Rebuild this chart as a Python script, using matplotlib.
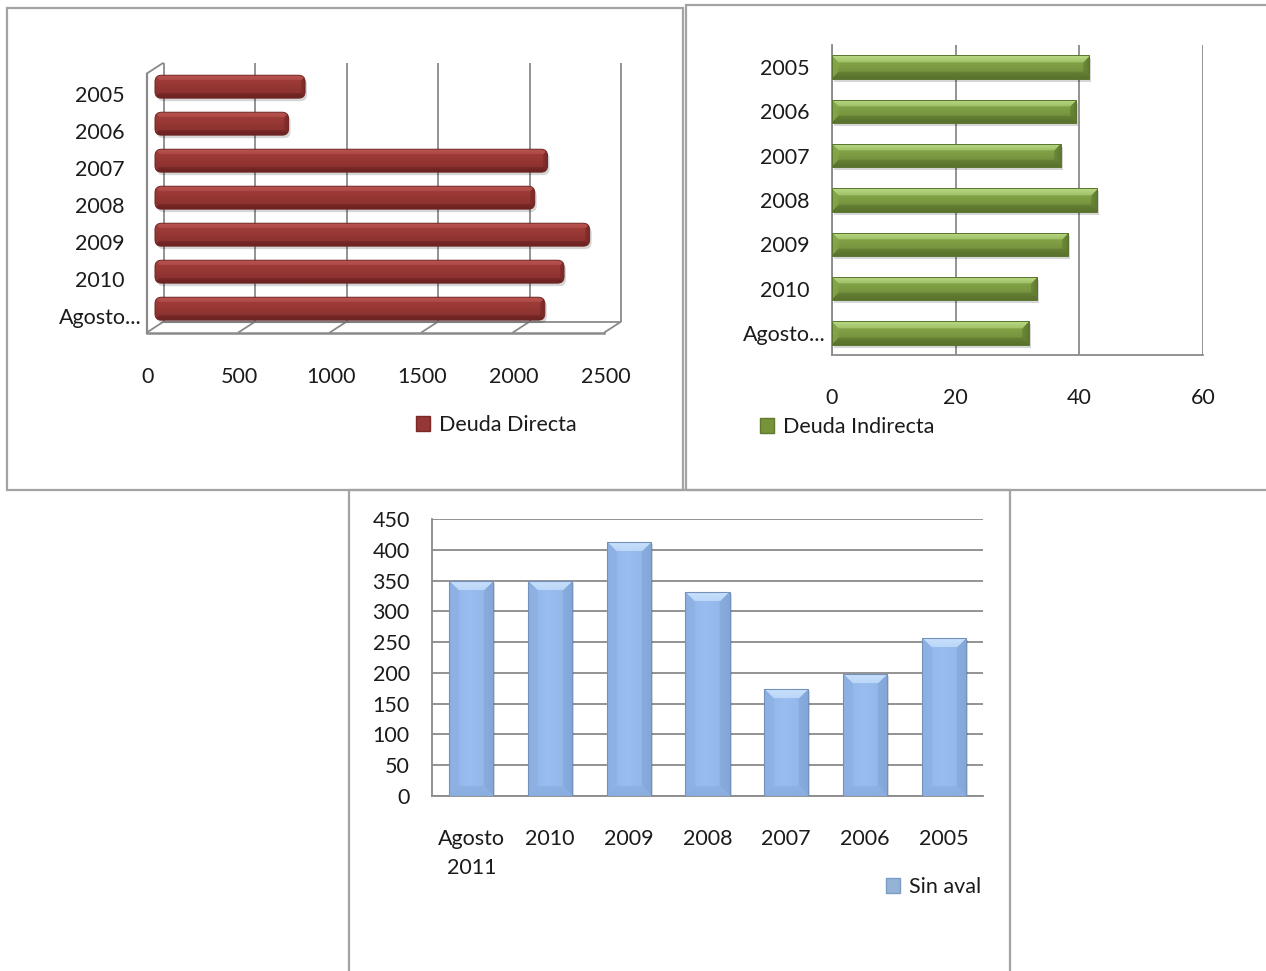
import numpy as np
import matplotlib
matplotlib.use("Agg")
import matplotlib.pyplot as plt
from matplotlib.colors import to_rgb
from matplotlib.patches import Rectangle, FancyBboxPatch, Patch

# ---------------- data ----------------
directa_labels = ['2005', '2006', '2007', '2008', '2009', '2010', 'Agosto...']
directa_values = [820, 730, 2145, 2075, 2375, 2235, 2130]
directa_ticks = [0, 500, 1000, 1500, 2000, 2500]

indirecta_labels = ['2005', '2006', '2007', '2008', '2009', '2010', 'Agosto...']
indirecta_values = [41.6, 39.5, 37.0, 42.9, 38.2, 33.2, 31.8]
indirecta_ticks = [0, 20, 40, 60]

sinaval_labels = ['Agosto\n2011', '2010', '2009', '2008', '2007', '2006', '2005']
sinaval_values = [350, 350, 413, 332, 174, 199, 257]
sinaval_ticks = [0, 50, 100, 150, 200, 250, 300, 350, 400, 450]

# ---------------- style ----------------
plt.rcParams['font.family'] = ['Lato', 'DejaVu Sans']
FS = 15.5
TXT = '#1b1b1b'
GRID = '#8a8a8a'
W, H = 1266, 971
fig = plt.figure(figsize=(W / 100, H / 100), dpi=100)
fig.patch.set_facecolor('white')


def axbox(x0, y0, x1, y1):
    return [x0 / W, 1 - y1 / H, (x1 - x0) / W, (y1 - y0) / H]


def profile(n, stops):
    pos = [s[0] for s in stops]
    cols = np.array([to_rgb(s[1]) for s in stops])
    t = np.linspace(0, 1, max(n, 2))
    return np.stack([np.interp(t, pos, cols[:, k]) for k in range(3)], axis=-1)


def bevel_image(nr, nc, stops, axis, faces, bv, fade=0.5):
    nr = max(int(round(nr)), 2)
    nc = max(int(round(nc)), 2)
    prof = profile(nr if axis == 0 else nc, stops)
    if axis == 0:
        img = np.repeat(prof[:, None, :], nc, axis=1)
    else:
        img = np.repeat(prof[None, :, :], nr, axis=0)
    r = np.arange(nr)[:, None] * np.ones((1, nc))
    c = np.ones((nr, 1)) * np.arange(nc)[None, :]
    d = np.stack([r, nr - 1 - r, c, nc - 1 - c])  # top, bottom, left, right
    face = np.argmin(d, axis=0)
    dist = np.min(d, axis=0)
    for k, key in enumerate(['top', 'bottom', 'left', 'right']):
        col = faces.get(key)
        if col is None:
            continue
        col = np.array(to_rgb(col))
        m = (face == k) & (dist < bv)
        f = (1 - dist / bv * fade)[m][:, None]
        img[m] = img[m] * (1 - f) + col * f
    return np.clip(img, 0, 1)


# ---------------- panel borders ----------------
for (x0, y0, x1, y1) in [(7, 8, 683, 490), (686, 5, 1275, 490), (349, 490, 1010, 985)]:
    fig.add_artist(Rectangle((x0 / W, 1 - y1 / H), (x1 - x0) / W, (y1 - y0) / H,
                             transform=fig.transFigure, fill=False,
                             ec='#a3a3a3', lw=1.6, zorder=0))

# ================= Panel 1: Deuda Directa (3-D look) =================
PX_X = 91.5 / 500.0      # pixels per data unit
PX_Y = 37.0              # pixels per category
ax1 = fig.add_axes(axbox(140, 55, 630, 340))
ax1.axis('off')
BX = 8.5 / PX_X
BY = 5.5 / PX_Y
n1 = len(directa_labels)
top_c, bot_c = -0.5, n1 - 0.5
lk = dict(color=GRID, lw=1.3, solid_capstyle='butt', zorder=1)
for t in directa_ticks:
    ax1.plot([t + BX, t + BX], [top_c - BY, bot_c - BY], **lk)
    ax1.plot([t + BX, t - BX], [bot_c - BY, bot_c + BY], **lk)
ax1.plot([BX, directa_ticks[-1] + BX], [bot_c - BY] * 2, **lk)
ax1.plot([-BX, directa_ticks[-1] - BX], [bot_c + BY] * 2, color=GRID, lw=1.8, zorder=1)
ax1.plot([-BX, -BX], [top_c + BY, bot_c + BY], color=GRID, lw=1.6, zorder=1)
ax1.plot([BX, -BX], [top_c - BY, top_c + BY], **lk)

h1 = 0.62
red_stops = [(0, '#a5413d'), (0.35, '#9a3936'), (1, '#862f2d')]
red_faces = {'top': '#b8534f', 'bottom': '#6c2321', 'right': '#7a2927'}
for i, v in enumerate(directa_values):
    rr = 6.5 / PX_X
    asp = PX_X / PX_Y
    shadow = FancyBboxPatch((2 / PX_X, i - h1 / 2 + 3 / PX_Y), v, h1,
                            boxstyle=f"round,pad=0,rounding_size={rr}",
                            mutation_aspect=asp, fc='#000000', ec='none',
                            alpha=0.16, zorder=2)
    ax1.add_patch(shadow)
    patch = FancyBboxPatch((0, i - h1 / 2), v, h1,
                           boxstyle=f"round,pad=0,rounding_size={rr}",
                           mutation_aspect=asp, fc='none', ec='#6e2422',
                           lw=0.7, zorder=4)
    ax1.add_patch(patch)
    img = bevel_image(h1 * PX_Y, v * PX_X, red_stops, 0, red_faces, 5)
    im = ax1.imshow(img, extent=(0, v, i + h1 / 2, i - h1 / 2), aspect='auto',
                    interpolation='bilinear', zorder=3)
    im.set_clip_path(patch)
ax1.set_xlim((140 - 155) / PX_X, (630 - 155) / PX_X)
ax1.set_ylim((340 - 86.7) / PX_Y, (55 - 86.7) / PX_Y)

for i, lab in enumerate(directa_labels):
    ax1.text((100 - 155) / PX_X, i + 9 / PX_Y, lab, ha='center', va='center',
             fontsize=FS, color=TXT, clip_on=False)
for t in directa_ticks:
    ax1.text(t - 7 / PX_X, (377 - 86.7) / PX_Y, f'{t}', ha='center', va='center',
             fontsize=FS, color=TXT, clip_on=False)

fig.legend(handles=[Patch(fc='#953735', ec='#7a2826')], labels=['Deuda Directa'],
           loc='center left', bbox_to_anchor=(416 / W, 1 - 425 / H), frameon=False,
           fontsize=FS, handlelength=0.65, handleheight=0.65, handletextpad=0.4,
           borderpad=0, borderaxespad=0, labelcolor=TXT)

# ================= Panel 2: Deuda Indirecta =================
ax2 = fig.add_axes(axbox(832, 45, 1203, 355))
n2 = len(indirecta_labels)
h2 = 0.53
PX2_X = (1203 - 832) / 60.0
PX2_Y = (355 - 45) / n2
green_stops = [(0, '#8cae4f'), (0.45, '#7e9d43'), (1, '#6c8737')]
green_faces = {'top': '#b8d983', 'bottom': '#5a722d', 'left': '#86a64a', 'right': '#5f7a30'}
for i, v in enumerate(indirecta_values):
    ax2.add_patch(Rectangle((2 / PX2_X, i - h2 / 2 + 3 / PX2_Y), v, h2,
                            fc='#000000', ec='none', alpha=0.16, zorder=2))
    patch = Rectangle((0, i - h2 / 2), v, h2, fc='none', ec='#5a7430', lw=0.7, zorder=4)
    ax2.add_patch(patch)
    img = bevel_image(h2 * PX2_Y, v * PX2_X, green_stops, 0, green_faces, 7)
    im = ax2.imshow(img, extent=(0, v, i + h2 / 2, i - h2 / 2), aspect='auto',
                    interpolation='bilinear', zorder=3)
    im.set_clip_path(patch)
ax2.set_xlim(0, 60)
ax2.set_ylim(n2 - 0.5, -0.5)
ax2.set_xticks(indirecta_ticks)
ax2.set_xticklabels([str(t) for t in indirecta_ticks])
ax2.set_yticks(range(n2))
ax2.set_yticklabels(indirecta_labels)
ax2.xaxis.grid(True, color=GRID, lw=1.3)
ax2.set_axisbelow(True)
for s in ['top', 'right']:
    ax2.spines[s].set_visible(False)
for s in ['left', 'bottom']:
    ax2.spines[s].set_color(GRID)
    ax2.spines[s].set_linewidth(1.3)
ax2.tick_params(axis='x', length=0, pad=24, labelsize=FS, labelcolor=TXT)
ax2.tick_params(axis='y', length=0, pad=34, labelsize=FS, labelcolor=TXT)
for lab in ax2.get_yticklabels():
    lab.set_ha('center')

fig.legend(handles=[Patch(fc='#77933c', ec='#5f7a2c')], labels=['Deuda Indirecta'],
           loc='center left', bbox_to_anchor=(760 / W, 1 - 427 / H), frameon=False,
           fontsize=FS, handlelength=0.65, handleheight=0.65, handletextpad=0.4,
           borderpad=0, borderaxespad=0, labelcolor=TXT)

# ================= Panel 3: Sin aval =================
ax3 = fig.add_axes(axbox(432, 519, 983, 796))
n3 = len(sinaval_labels)
w3 = 0.56
PX3_X = (983 - 432) / n3
PX3_Y = (796 - 519) / 450.0
blue_stops = [(0, '#92b5e8'), (0.45, '#99bdf0'), (1, '#91b4e6')]
blue_faces = {'top': '#c9e1fc', 'bottom': '#8aaee0', 'left': '#8db0e3', 'right': '#84a7d9'}
for i, v in enumerate(sinaval_values):
    ax3.add_patch(Rectangle((i - w3 / 2 + 2 / PX3_X, -2 / PX3_Y), w3, v,
                            fc='#000000', ec='none', alpha=0.14, zorder=2))
    patch = Rectangle((i - w3 / 2, 0), w3, v, fc='none', ec='#7391bb', lw=0.8, zorder=4)
    ax3.add_patch(patch)
    img = bevel_image(v * PX3_Y, w3 * PX3_X, blue_stops, 1, blue_faces, 10, fade=0.3)
    im = ax3.imshow(img, extent=(i - w3 / 2, i + w3 / 2, 0, v), aspect='auto',
                    interpolation='bilinear', zorder=3)
    im.set_clip_path(patch)
ax3.set_xlim(-0.5, n3 - 0.5)
ax3.set_ylim(0, 450)
ax3.set_yticks(sinaval_ticks)
ax3.set_yticklabels([str(t) for t in sinaval_ticks])
ax3.set_xticks(range(n3))
ax3.set_xticklabels(sinaval_labels, linespacing=1.55)
ax3.yaxis.grid(True, color=GRID, lw=1.3)
ax3.set_axisbelow(True)
for s in ['top', 'right']:
    ax3.spines[s].set_visible(False)
for s in ['left', 'bottom']:
    ax3.spines[s].set_color(GRID)
    ax3.spines[s].set_linewidth(1.3)
ax3.tick_params(axis='x', length=0, pad=24, labelsize=FS, labelcolor=TXT)
ax3.tick_params(axis='y', length=0, pad=16, labelsize=FS, labelcolor=TXT)

fig.legend(handles=[Patch(fc='#95b3d7', ec='#7b9cc4')], labels=['Sin aval'],
           loc='center left', bbox_to_anchor=(886 / W, 1 - 887 / H), frameon=False,
           fontsize=FS, handlelength=0.65, handleheight=0.65, handletextpad=0.4,
           borderpad=0, borderaxespad=0, labelcolor=TXT)

fig.savefig('out.png', dpi=100, facecolor='white')
